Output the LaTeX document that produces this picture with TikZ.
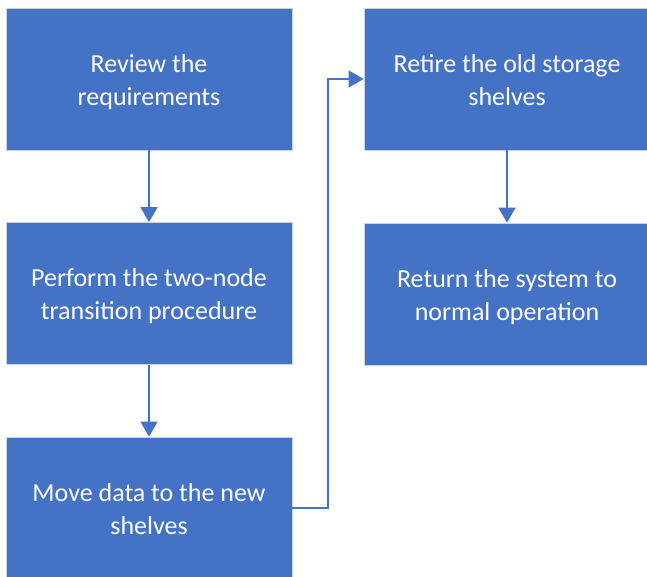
\documentclass[tikz,border=0pt]{standalone}
\usepackage{fontspec}
\setmainfont{Carlito}
\usetikzlibrary{arrows.meta}
\definecolor{ofblue}{HTML}{4472C4}
\definecolor{boxedge}{HTML}{C9D3E6}
\newcommand{\boxtext}[1]{\raisebox{-3pt}[\height][\depth]{\begin{tabular}{@{}c@{}}#1\end{tabular}}}
\begin{document}
\begin{tikzpicture}[x=1pt,y=1pt,
  stepbox/.style={rectangle, fill=ofblue, draw=boxedge, line width=0.8pt,
    minimum width=286pt, minimum height=142pt, inner sep=0pt,
    text=white, align=center, font=\fontsize{26}{33}\selectfont},
  flow/.style={draw=ofblue, line width=1.6pt, -{Triangle[width=17pt,length=15pt]}}]
\useasboundingbox (0,0) rectangle (647,-577);
\clip (0,0) rectangle (647,-577);
\node[stepbox] (a) at (149,-79) {\boxtext{Review the\\requirements}};
\node[stepbox] (b) at (149,-293.5) {\boxtext{Perform the two-node\\transition procedure}};
\node[stepbox] (c) at (149,-508) {\boxtext{Move data to the new\\shelves}};
\node[stepbox] (d) at (507,-79) {\boxtext{Retire the old storage\\shelves}};
\node[stepbox] (e) at (507,-294) {\boxtext{Return the system to\\normal operation}};
\coordinate (k1) at (328,-508);
\coordinate (k2) at (328,-79);
\draw[flow] (a) -- (b);
\draw[flow] (b) -- (c);
\draw[flow] (c.east) -- (k1) -- (k2) -- (d.west);
\draw[flow] (d) -- (e);
\end{tikzpicture}
\end{document}
